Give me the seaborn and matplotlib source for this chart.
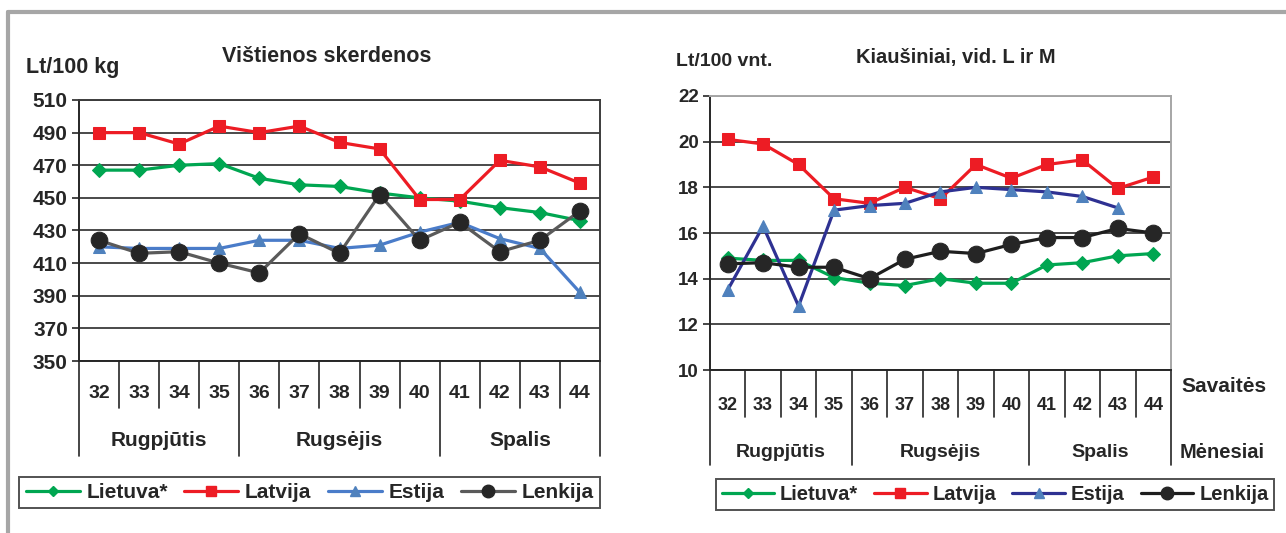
import numpy as np
import matplotlib
matplotlib.use('Agg')
import matplotlib.pyplot as plt
import matplotlib.transforms as mtransforms
from matplotlib.lines import Line2D
import seaborn as sns

# data
weeks = [32, 33, 34, 35, 36, 37, 38, 39, 40, 41, 42, 43, 44]
months = ['Rugpjūtis', 'Rugsėjis', 'Spalis']
month_weeks = [4, 5, 4]
countries = ['Lietuva*', 'Latvija', 'Estija', 'Lenkija']

# Vištienos skerdenos, Lt/100 kg
chicken_lt = [467, 467, 470, 471, 462, 458, 457, 453, 450, 448, 444, 441, 436]
chicken_lv = [490, 490, 483, 494, 490, 494, 484, 480, 449, 449, 473, 469, 459]
chicken_ee = [420, 419, 419, 419, 424, 424, 419, 421, 429, 435, 425, 419, 392]
chicken_pl = [424, 416, 417, 410, 404, 428, 416, 452, 424, 435, 417, 424, 442]

# Kiaušiniai, vid. L ir M, Lt/100 vnt.
eggs_lt = [14.9, 14.8, 14.8, 14.05, 13.8, 13.7, 14.0, 13.8, 13.8, 14.6, 14.7, 15.0, 15.1]
eggs_lv = [20.1, 19.9, 19.0, 17.5, 17.3, 18.0, 17.5, 19.0, 18.4, 19.0, 19.2, 17.95, 18.45]
eggs_ee = [13.5, 16.3, 12.8, 17.0, 17.2, 17.3, 17.8, 18.0, 17.9, 17.8, 17.6, 17.1, np.nan]
eggs_pl = [14.65, 14.7, 14.5, 14.5, 14.0, 14.85, 15.2, 15.1, 15.5, 15.8, 15.8, 16.2, 16.0]

sns.set_theme(style='white')
plt.rcParams['font.family'] = ['Liberation Sans Narrow', 'Liberation Sans', 'DejaVu Sans']
plt.rcParams['font.weight'] = 'bold'
TXT = '#262626'

fig = plt.figure(figsize=(12.86, 5.33), dpi=100)

# outer grey frame (top and left)
fig.add_artist(Line2D([0.0062, 1.0], [0.9775, 0.9775], transform=fig.transFigure, color='#a6a6a6', lw=3))
fig.add_artist(Line2D([0.0062, 0.0062], [0.0, 0.9775], transform=fig.transFigure, color='#a6a6a6', lw=3))

ax1 = fig.add_axes([0.0614, 0.3227, 0.4052, 0.4897])
ax2 = fig.add_axes([0.552, 0.3058, 0.3586, 0.5141])

left_style = [
    dict(color='#00a651', marker='D', ms=7, mfc='#00a651', mec='#00a651'),
    dict(color='#ed1c24', marker='s', ms=9, mfc='#ed1c24', mec='#ed1c24'),
    dict(color='#4a7cc9', marker='^', ms=9, mfc='#4f81bd', mec='#4f81bd'),
    dict(color='#5a5a5a', marker='o', ms=12, mfc='#262626', mec='#262626'),
]
right_style = [
    dict(color='#00a651', marker='D', ms=7, mfc='#00a651', mec='#00a651'),
    dict(color='#ed1c24', marker='s', ms=9, mfc='#ed1c24', mec='#ed1c24'),
    dict(color='#2e3192', marker='^', ms=9, mfc='#4f81bd', mec='#4f81bd'),
    dict(color='#1e1e1e', marker='o', ms=12, mfc='#262626', mec='#262626'),
]


def draw_panel(ax, series, styles, ylim, ystep, wk_depth, mo_depth, wk_y, mo_y, frame_col,
               tick_fs, wk_fs, mo_fs):
    x = np.arange(len(weeks))
    for vals, st in zip(series, styles):
        sns.lineplot(x=x, y=vals, ax=ax, color=st['color'], marker=st['marker'],
                     markersize=st['ms'], markerfacecolor=st['mfc'],
                     markeredgecolor=st['mec'], linewidth=2.3, legend=False)
    ax.set_xlim(-0.5, len(weeks) - 0.5)
    ax.set_ylim(*ylim)
    ax.set_yticks(np.arange(ylim[0], ylim[1] + ystep / 2, ystep))
    ax.set_xticks([])
    ax.set_xlabel('')
    ax.set_ylabel('')
    ax.yaxis.grid(True, color='#3c3c3c', lw=1.3)
    ax.set_axisbelow(True)
    ax.tick_params(axis='y', left=True, length=5, width=1.2, color='#262626',
                   labelsize=tick_fs, labelcolor=TXT, pad=3)
    for lab in ax.get_yticklabels():
        lab.set_fontweight('bold')
    for s in ['left', 'bottom']:
        ax.spines[s].set_color('#262626')
        ax.spines[s].set_linewidth(1.4)
    for s in ['top', 'right']:
        ax.spines[s].set_color(frame_col)
        ax.spines[s].set_linewidth(1.4)

    # category table under the axis
    trans = mtransforms.blended_transform_factory(ax.transData, ax.transAxes)
    bounds = np.cumsum([0] + month_weeks) - 0.5
    for i in range(len(weeks) - 1):
        b = i + 0.5
        depth = mo_depth if b in bounds else wk_depth
        ax.add_line(Line2D([b, b], [0, -depth], transform=trans, color='#262626',
                           lw=1.2, clip_on=False))
    for b in [bounds[0], bounds[-1]]:
        ax.add_line(Line2D([b, b], [0, -mo_depth], transform=trans, color='#262626',
                           lw=1.2, clip_on=False))
    for i, w in enumerate(weeks):
        ax.text(i, -wk_y, str(w), transform=trans, ha='center', va='center',
                fontsize=wk_fs, fontweight='bold', color=TXT)
    for m, a, b in zip(months, bounds[:-1], bounds[1:]):
        ax.text((a + b) / 2, -mo_y, m, transform=trans, ha='center', va='center',
                fontsize=mo_fs, fontweight='bold', color=TXT)


draw_panel(ax1, [chicken_lt, chicken_lv, chicken_ee, chicken_pl], left_style,
           (350, 510), 20, 0.18, 0.364, 0.123, 0.306, '#3c3c3c', 15, 14, 15)
draw_panel(ax2, [eggs_lt, eggs_lv, eggs_ee, eggs_pl], right_style,
           (10, 22), 2, 0.172, 0.347, 0.128, 0.30, '#a6a6a6', 13.5, 13, 14)

# titles and units
fig.text(26 / 1286, 1 - 68 / 533, 'Lt/100 kg', ha='left', va='center', fontsize=15.5, fontweight='bold', color=TXT)
fig.text(327 / 1286, 1 - 57 / 533, 'Vištienos skerdenos', ha='center', va='center', fontsize=15.5, fontweight='bold', color=TXT)
fig.text(676 / 1286, 1 - 62 / 533, 'Lt/100 vnt.', ha='left', va='center', fontsize=14, fontweight='bold', color=TXT)
fig.text(956 / 1286, 1 - 57 / 533, 'Kiaušiniai, vid. L ir M', ha='center', va='center', fontsize=14.5, fontweight='bold', color=TXT)
fig.text(1224 / 1286, 1 - 387 / 533, 'Savaitės', ha='center', va='center', fontsize=15, fontweight='bold', color=TXT)
fig.text(1222 / 1286, 1 - 452 / 533, 'Mėnesiai', ha='center', va='center', fontsize=14.5, fontweight='bold', color=TXT)


def legend_handles(styles):
    return [Line2D([0], [0], color=st['color'], lw=2.3, marker=st['marker'],
                   markersize=st['ms'] * 0.75, markerfacecolor=st['mfc'],
                   markeredgecolor=st['mec']) for st in styles]


for styles, cx, cy, fs in [(left_style, 309.5 / 1286, 1 - 492.5 / 533, 15),
                           (right_style, 995 / 1286, 1 - 494.5 / 533, 14.5)]:
    leg = fig.legend(legend_handles(styles), countries, loc='center', bbox_to_anchor=(cx, cy),
                     ncol=4, frameon=True, fancybox=False, fontsize=fs, handlelength=2.6,
                     handletextpad=0.3, columnspacing=0.8, borderpad=0.3)
    leg.get_frame().set_edgecolor('#262626')
    leg.get_frame().set_linewidth(1.4)
    for t in leg.get_texts():
        t.set_fontweight('bold')
        t.set_color(TXT)

fig.savefig('out.png', dpi=100)
